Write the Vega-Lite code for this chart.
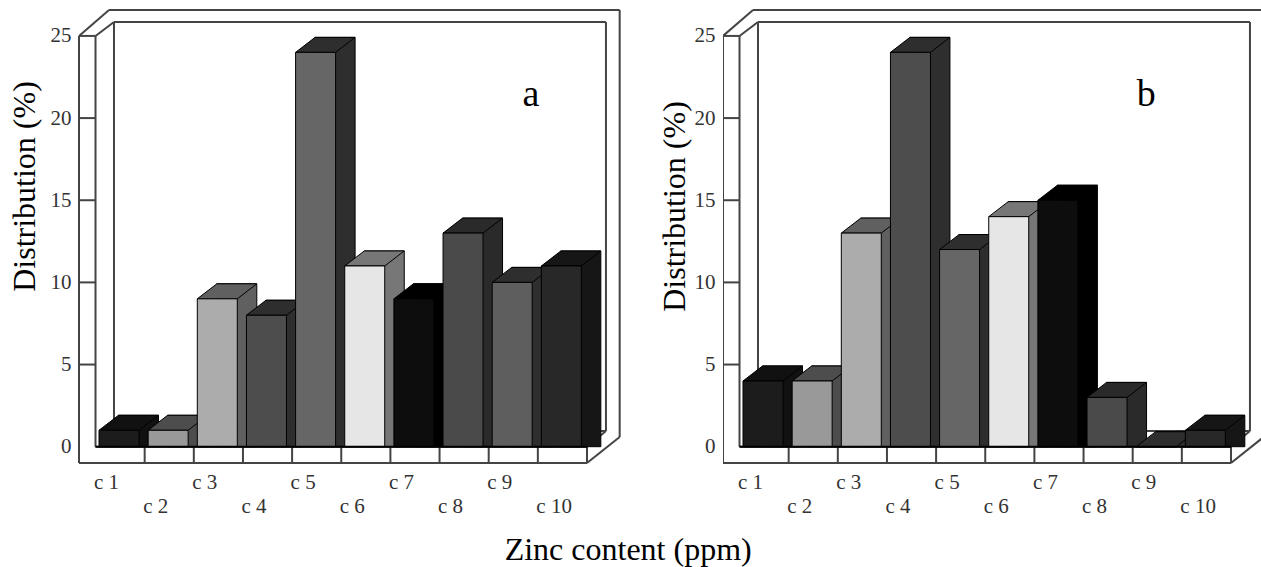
{"$schema":"https://vega.github.io/schema/vega-lite/v6.json","background":"#ffffff","padding":{"left":8,"top":8,"right":0,"bottom":0},"bounds":"flush","spacing":99,"config":{"view":{"stroke":null},"font":"Liberation Serif"},"datasets":{"frame":[{"n":0.186,"v":25,"n2":0.186,"v2":-0.99},{"n":0.186,"v":-0.99,"n2":10.522,"v2":-0.99},{"n":0.522,"v":25,"n2":0.522,"v2":0},{"n":0.186,"v":25,"n2":0.522,"v2":25},{"n":0.186,"v":20,"n2":0.522,"v2":20},{"n":0.186,"v":15,"n2":0.522,"v2":15},{"n":0.186,"v":10,"n2":0.522,"v2":10},{"n":0.186,"v":5,"n2":0.522,"v2":5},{"n":0.522,"v":0,"n2":10.522,"v2":0},{"n":10.522,"v":0,"n2":10.522,"v2":-0.99},{"n":1.522,"v":0,"n2":1.522,"v2":-0.99},{"n":2.522,"v":0,"n2":2.522,"v2":-0.99},{"n":3.522,"v":0,"n2":3.522,"v2":-0.99},{"n":4.522,"v":0,"n2":4.522,"v2":-0.99},{"n":5.522,"v":0,"n2":5.522,"v2":-0.99},{"n":6.522,"v":0,"n2":6.522,"v2":-0.99},{"n":7.522,"v":0,"n2":7.522,"v2":-0.99},{"n":8.522,"v":0,"n2":8.522,"v2":-0.99},{"n":9.522,"v":0,"n2":9.522,"v2":-0.99},{"n":0.186,"v":25,"n2":0.797,"v2":26.58},{"n":0.522,"v":25,"n2":0.898,"v2":25.85},{"n":0.797,"v":26.58,"n2":11.187,"v2":26.58},{"n":0.898,"v":25.85,"n2":10.908,"v2":25.85},{"n":0.898,"v":25.85,"n2":0.898,"v2":0.956},{"n":10.908,"v":25.85,"n2":10.908,"v2":0.956},{"n":11.187,"v":26.58,"n2":11.187,"v2":0.59},{"n":0.898,"v":0.956,"n2":10.908,"v2":0.956},{"n":10.522,"v":-0.99,"n2":11.187,"v2":0.59},{"n":10.522,"v":0,"n2":10.908,"v2":0.956}],"a":[{"cat":"c 1","n":1,"v":1},{"cat":"c 2","n":2,"v":1},{"cat":"c 3","n":3,"v":9},{"cat":"c 4","n":4,"v":8},{"cat":"c 5","n":5,"v":24},{"cat":"c 6","n":6,"v":11},{"cat":"c 7","n":7,"v":9},{"cat":"c 8","n":8,"v":13},{"cat":"c 9","n":9,"v":10},{"cat":"c 10","n":10,"v":11}],"b":[{"cat":"c 1","n":1,"v":4},{"cat":"c 2","n":2,"v":4},{"cat":"c 3","n":3,"v":13},{"cat":"c 4","n":4,"v":24},{"cat":"c 5","n":5,"v":12},{"cat":"c 6","n":6,"v":14},{"cat":"c 7","n":7,"v":15},{"cat":"c 8","n":8,"v":3},{"cat":"c 9","n":9,"v":0},{"cat":"c 10","n":10,"v":1}]},"hconcat":[{"width":545,"height":462,"encoding":{"x":{"field":"n","type":"quantitative","scale":{"domain":[0.186,11.275],"nice":false,"zero":false,"padding":0},"axis":null},"y":{"field":"v","type":"quantitative","scale":{"domain":[-1.418,26.7],"nice":false,"zero":false},"axis":{"title":"Distribution (%)","titleFont":"Liberation Serif","titleFontSize":32,"titleFontWeight":"normal","titleColor":"#000000","titleX":-44.5,"titleY":178,"titleBaseline":"alphabetic","titleAngle":-90,"titleAlign":"center","domain":false,"ticks":false,"grid":false,"values":[0,5,10,15,20,25],"labelFont":"Liberation Serif","labelFontSize":21,"labelColor":"#333333","labelPadding":8}}},"resolve":{"scale":{"fill":"independent"}},"layer":[{"data":{"name":"frame"},"mark":{"type":"rule","color":"#444444","strokeWidth":2},"encoding":{"x2":{"field":"n2"},"y2":{"field":"v2"}}},{"data":{"name":"a"},"mark":{"type":"bar","orient":"vertical","width":40,"xOffset":19.5,"yOffset":-15,"stroke":"#000000","strokeWidth":1},"encoding":{"y2":{"datum":0},"fill":{"field":"cat","type":"nominal","legend":null,"scale":{"domain":["c 1","c 2","c 3","c 4","c 5","c 6","c 7","c 8","c 9","c 10"],"range":["#111111","#4d4d4d","#606060","#2e2e2e","#2e2e2e","#777777","#000000","#2a2a2a","#2e2e2e","#161616"]}}}},{"data":{"name":"a"},"mark":{"type":"point","shape":"M20 0L39.5 -15L39.5 -16.5L20 -16.5Z","size":4,"filled":true,"opacity":1,"strokeWidth":0},"encoding":{"y":{"datum":0,"type":"quantitative"},"fill":{"field":"cat","type":"nominal","legend":null,"scale":{"domain":["c 1","c 2","c 3","c 4","c 5","c 6","c 7","c 8","c 9","c 10"],"range":["#111111","#4d4d4d","#606060","#2e2e2e","#2e2e2e","#777777","#000000","#2a2a2a","#2e2e2e","#161616"]}}}},{"data":{"name":"a"},"mark":{"type":"point","shape":"M-20 0L20 0L39.5 -15L-0.5 -15Z","size":4,"filled":true,"opacity":1,"stroke":"#000000","strokeWidth":1},"encoding":{"fill":{"field":"cat","type":"nominal","legend":null,"scale":{"domain":["c 1","c 2","c 3","c 4","c 5","c 6","c 7","c 8","c 9","c 10"],"range":["#111111","#4d4d4d","#606060","#2e2e2e","#2e2e2e","#777777","#000000","#2a2a2a","#2e2e2e","#161616"]}}}},{"data":{"name":"a"},"mark":{"type":"bar","orient":"vertical","width":40,"stroke":"#000000","strokeWidth":1},"encoding":{"y2":{"datum":0},"fill":{"field":"cat","type":"nominal","legend":null,"scale":{"domain":["c 1","c 2","c 3","c 4","c 5","c 6","c 7","c 8","c 9","c 10"],"range":["#1c1c1c","#999999","#acacac","#4d4d4d","#666666","#e6e6e6","#0d0d0d","#4a4a4a","#5e5e5e","#282828"]}}}},{"data":{"values":[{"n":0.522,"v":0,"n2":10.522,"v2":0}]},"mark":{"type":"rule","color":"#000000","strokeWidth":2},"encoding":{"x2":{"field":"n2"},"y2":{"field":"v2"}}},{"data":{"name":"a"},"transform":[{"filter":"datum.n % 2 == 1"}],"mark":{"type":"text","align":"left","baseline":"middle","dx":-25,"font":"Liberation Serif","fontSize":21,"color":"#333333"},"encoding":{"y":{"datum":-2.21,"type":"quantitative"},"text":{"field":"cat"}}},{"data":{"name":"a"},"transform":[{"filter":"datum.n % 2 == 0"}],"mark":{"type":"text","align":"left","baseline":"middle","dx":-25,"font":"Liberation Serif","fontSize":21,"color":"#333333"},"encoding":{"y":{"datum":-3.67,"type":"quantitative"},"text":{"field":"cat"}}},{"data":{"values":[{"n":9.38,"v":20.74,"label":"a"}]},"mark":{"type":"text","align":"center","baseline":"alphabetic","font":"Liberation Serif","fontSize":38,"color":"#000000"},"encoding":{"text":{"field":"label"}}},{"data":{"values":[{"n":11.36,"v":-6.9,"label":"Zinc content (ppm)"}]},"mark":{"type":"text","align":"center","baseline":"alphabetic","font":"Liberation Serif","fontSize":32,"color":"#000000"},"encoding":{"text":{"field":"label"}}}]},{"width":539,"height":462,"encoding":{"x":{"field":"n","type":"quantitative","scale":{"domain":[0.186,11.153],"nice":false,"zero":false,"padding":0},"axis":null},"y":{"field":"v","type":"quantitative","scale":{"domain":[-1.418,26.7],"nice":false,"zero":false},"axis":{"title":"Distribution (%)","titleFont":"Liberation Serif","titleFontSize":32,"titleFontWeight":"normal","titleColor":"#000000","titleX":-39,"titleY":198,"titleBaseline":"alphabetic","titleAngle":-90,"titleAlign":"center","domain":false,"ticks":false,"grid":false,"values":[0,5,10,15,20,25],"labelFont":"Liberation Serif","labelFontSize":21,"labelColor":"#333333","labelPadding":8}}},"resolve":{"scale":{"fill":"independent"}},"layer":[{"data":{"name":"frame"},"mark":{"type":"rule","color":"#444444","strokeWidth":2,"clip":true},"encoding":{"x2":{"field":"n2"},"y2":{"field":"v2"}}},{"data":{"name":"b"},"mark":{"type":"bar","orient":"vertical","width":40,"xOffset":19.5,"yOffset":-15,"stroke":"#000000","strokeWidth":1},"encoding":{"y2":{"datum":0},"fill":{"field":"cat","type":"nominal","legend":null,"scale":{"domain":["c 1","c 2","c 3","c 4","c 5","c 6","c 7","c 8","c 9","c 10"],"range":["#111111","#4d4d4d","#606060","#2e2e2e","#2e2e2e","#777777","#000000","#2a2a2a","#2e2e2e","#161616"]}}}},{"data":{"name":"b"},"mark":{"type":"point","shape":"M20 0L39.5 -15L39.5 -16.5L20 -16.5Z","size":4,"filled":true,"opacity":1,"strokeWidth":0},"encoding":{"y":{"datum":0,"type":"quantitative"},"fill":{"field":"cat","type":"nominal","legend":null,"scale":{"domain":["c 1","c 2","c 3","c 4","c 5","c 6","c 7","c 8","c 9","c 10"],"range":["#111111","#4d4d4d","#606060","#2e2e2e","#2e2e2e","#777777","#000000","#2a2a2a","#2e2e2e","#161616"]}}}},{"data":{"name":"b"},"mark":{"type":"point","shape":"M-20 0L20 0L39.5 -15L-0.5 -15Z","size":4,"filled":true,"opacity":1,"stroke":"#000000","strokeWidth":1},"encoding":{"fill":{"field":"cat","type":"nominal","legend":null,"scale":{"domain":["c 1","c 2","c 3","c 4","c 5","c 6","c 7","c 8","c 9","c 10"],"range":["#111111","#4d4d4d","#606060","#2e2e2e","#2e2e2e","#777777","#000000","#2a2a2a","#2e2e2e","#161616"]}}}},{"data":{"name":"b"},"mark":{"type":"bar","orient":"vertical","width":40,"stroke":"#000000","strokeWidth":1},"encoding":{"y2":{"datum":0},"fill":{"field":"cat","type":"nominal","legend":null,"scale":{"domain":["c 1","c 2","c 3","c 4","c 5","c 6","c 7","c 8","c 9","c 10"],"range":["#1c1c1c","#999999","#acacac","#4d4d4d","#666666","#e6e6e6","#0d0d0d","#4a4a4a","#5e5e5e","#282828"]}}}},{"data":{"values":[{"n":0.522,"v":0,"n2":10.522,"v2":0}]},"mark":{"type":"rule","color":"#000000","strokeWidth":2},"encoding":{"x2":{"field":"n2"},"y2":{"field":"v2"}}},{"data":{"name":"b"},"transform":[{"filter":"datum.n % 2 == 1"}],"mark":{"type":"text","align":"left","baseline":"middle","dx":-25,"font":"Liberation Serif","fontSize":21,"color":"#333333"},"encoding":{"y":{"datum":-2.21,"type":"quantitative"},"text":{"field":"cat"}}},{"data":{"name":"b"},"transform":[{"filter":"datum.n % 2 == 0"}],"mark":{"type":"text","align":"left","baseline":"middle","dx":-25,"font":"Liberation Serif","fontSize":21,"color":"#333333"},"encoding":{"y":{"datum":-3.67,"type":"quantitative"},"text":{"field":"cat"}}},{"data":{"values":[{"n":8.8,"v":20.74,"label":"b"}]},"mark":{"type":"text","align":"center","baseline":"alphabetic","font":"Liberation Serif","fontSize":38,"color":"#000000"},"encoding":{"text":{"field":"label"}}}]}]}
